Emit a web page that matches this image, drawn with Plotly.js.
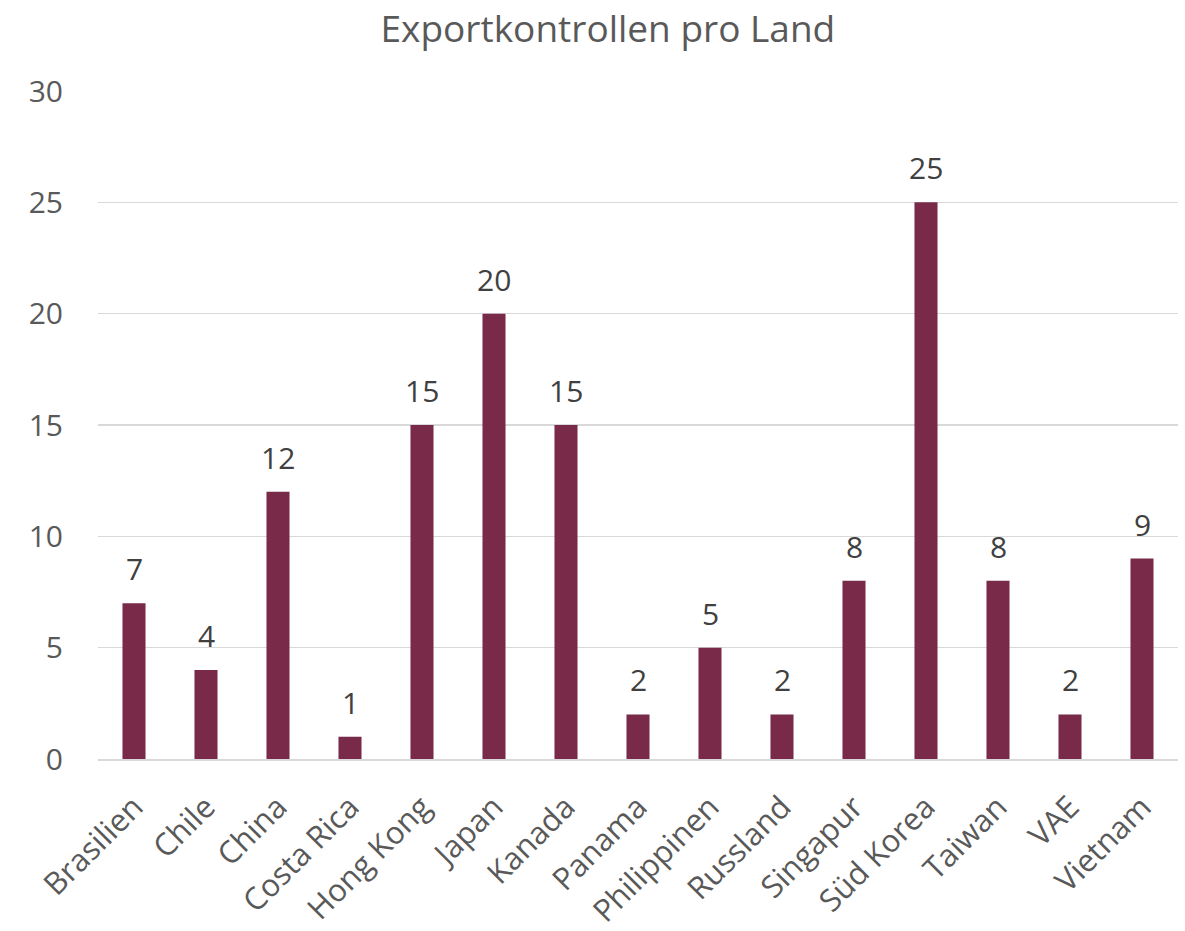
<!DOCTYPE html>
<html>
<head>
<meta charset="utf-8">
<script src="https://cdn.plot.ly/plotly-3.0.1.min.js"></script>
<style>html,body{margin:0;padding:0;background:#fff;}#chart{width:1185px;height:931px;}</style>
</head>
<body>
<div id="chart"></div>
<script>
const countries = ["Brasilien","Chile","China","Costa Rica","Hong Kong","Japan","Kanada","Panama","Philippinen","Russland","Singapur","Süd Korea","Taiwan","VAE","Vietnam"];
const counts = [7,4,12,1,15,20,15,2,5,2,8,25,8,2,9];
const chartTitle = "Exportkontrollen pro Land";

const trace = {
  type: "bar",
  x: countries,
  y: counts,
  marker: {color: "#782A48"},
  hoverinfo: "x+y"
};

const valueLabels = countries.map((c, i) => ({
  x: c, y: counts[i], xref: "x", yref: "y",
  text: String(counts[i]), showarrow: false,
  yanchor: "bottom", yshift: 12,
  font: {family: "Open Sans, sans-serif", size: 30, color: "#404040"}
}));

const layout = {
  width: 1185,
  height: 931,
  margin: {l: 98, r: 7, t: 91, b: 172},
  paper_bgcolor: "#fff",
  plot_bgcolor: "#fff",
  bargap: 0.68,
  showlegend: false,
  annotations: valueLabels,
  title: {text: chartTitle, x: 0.513, xanchor: "center", y: 0.969, yanchor: "middle",
          font: {family: "Open Sans, sans-serif", size: 37, color: "#595959"}},
  font: {family: "Open Sans, sans-serif", color: "#595959"},
  xaxis: {
    type: "category",
    tickangle: -45,
    tickfont: {size: 31, color: "#595959"},
    showgrid: false,
    showline: true,
    linecolor: "#d9d9d9",
    linewidth: 1.5,
    ticks: "",
    ticklabelstandoff: 16,
    automargin: false
  },
  yaxis: {
    range: [0, 30],
    dtick: 5,
    tick0: 0,
    showgrid: true,
    gridcolor: "#d9d9d9",
    gridwidth: 1.5,
    zeroline: false,
    showline: false,
    ticks: "",
    ticklabelstandoff: 34,
    tickfont: {size: 30, color: "#595959"},
    automargin: false
  }
};

Plotly.newPlot("chart", [trace], layout, {displayModeBar: false, staticPlot: true});
</script>
</body>
</html>
